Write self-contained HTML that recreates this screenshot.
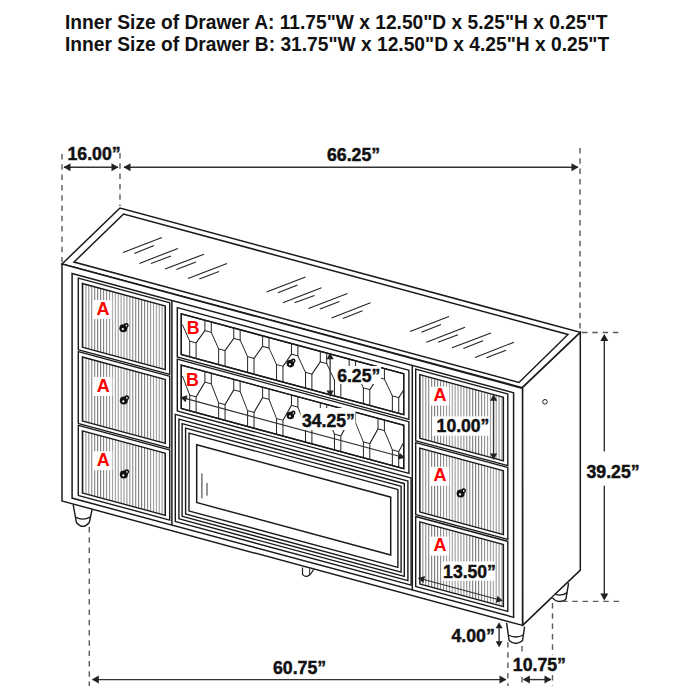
<!DOCTYPE html>
<html><head><meta charset="utf-8"><style>
html,body{margin:0;padding:0;background:#fff;width:700px;height:700px;overflow:hidden}
svg{display:block}
.h{font-family:"Liberation Sans",sans-serif;font-weight:bold;font-size:19.2px;fill:#111}
.d{font-family:"Liberation Sans",sans-serif;font-weight:bold;fill:#111;stroke:#111;stroke-width:0.45px}
.r{font-family:"Liberation Sans",sans-serif;font-weight:bold;fill:#f00;font-size:18px}
</style></head><body>
<svg width="700" height="700" viewBox="0 0 700 700">
<defs>
<pattern id="flute" patternUnits="userSpaceOnUse" x="0.5" y="0" width="2.93" height="40">
<rect x="0" y="0" width="2.93" height="40" fill="#fff"/>
<rect x="0" y="0" width="0.95" height="40" fill="#7c7c7c"/>
</pattern>
</defs>
<rect width="700" height="700" fill="#fff"/>
<text x="65" y="28.6" class="h" transform="translate(0,28.6) scale(1,1.07) translate(0,-28.6)">Inner Size of Drawer A: 11.75"W x 12.50"D x 5.25"H x 0.25"T</text><text x="65" y="51.4" class="h" transform="translate(0,51.4) scale(1,1.07) translate(0,-51.4)">Inner Size of Drawer B: 31.75"W x 12.50"D x 4.25"H x 0.25"T</text>
<path d="M120,208 L62,264 L522.4,387.6 L580.3,332.4 Z" fill="#fff" stroke="#1a1a1a" stroke-width="1.5" stroke-linejoin="miter"/><path d="M123.6,214 L74,262 L519,382.5 L568,334.5 Z" fill="none" stroke="#1a1a1a" stroke-width="1.5"/><line x1="123.00" y1="252.60" x2="162.00" y2="237.60" stroke="#222" stroke-width="1.1" /><line x1="134.40" y1="253.40" x2="154.00" y2="245.60" stroke="#222" stroke-width="1.1" /><line x1="139.40" y1="263.40" x2="178.00" y2="248.40" stroke="#222" stroke-width="1.1" /><line x1="151.00" y1="263.40" x2="171.00" y2="256.00" stroke="#222" stroke-width="1.1" /><line x1="165.00" y1="269.00" x2="204.00" y2="254.20" stroke="#222" stroke-width="1.1" /><line x1="176.40" y1="269.60" x2="196.00" y2="262.00" stroke="#222" stroke-width="1.1" /><line x1="188.00" y1="278.60" x2="227.00" y2="263.40" stroke="#222" stroke-width="1.1" /><line x1="199.40" y1="279.00" x2="219.00" y2="271.40" stroke="#222" stroke-width="1.1" /><line x1="266.50" y1="292.00" x2="305.50" y2="277.00" stroke="#222" stroke-width="1.1" /><line x1="277.90" y1="292.80" x2="297.50" y2="285.00" stroke="#222" stroke-width="1.1" /><line x1="282.90" y1="302.80" x2="321.50" y2="287.80" stroke="#222" stroke-width="1.1" /><line x1="294.50" y1="302.80" x2="314.50" y2="295.40" stroke="#222" stroke-width="1.1" /><line x1="308.50" y1="308.40" x2="347.50" y2="293.60" stroke="#222" stroke-width="1.1" /><line x1="319.90" y1="309.00" x2="339.50" y2="301.40" stroke="#222" stroke-width="1.1" /><line x1="331.50" y1="318.00" x2="370.50" y2="302.80" stroke="#222" stroke-width="1.1" /><line x1="342.90" y1="318.40" x2="362.50" y2="310.80" stroke="#222" stroke-width="1.1" /><line x1="410.00" y1="331.40" x2="449.00" y2="316.40" stroke="#222" stroke-width="1.1" /><line x1="421.40" y1="332.20" x2="441.00" y2="324.40" stroke="#222" stroke-width="1.1" /><line x1="426.40" y1="342.20" x2="465.00" y2="327.20" stroke="#222" stroke-width="1.1" /><line x1="438.00" y1="342.20" x2="458.00" y2="334.80" stroke="#222" stroke-width="1.1" /><line x1="452.00" y1="347.80" x2="491.00" y2="333.00" stroke="#222" stroke-width="1.1" /><line x1="463.40" y1="348.40" x2="483.00" y2="340.80" stroke="#222" stroke-width="1.1" /><line x1="475.00" y1="357.40" x2="514.00" y2="342.20" stroke="#222" stroke-width="1.1" /><line x1="486.40" y1="357.80" x2="506.00" y2="350.20" stroke="#222" stroke-width="1.1" /><path d="M522.4,387.6 L580.3,332.4 L580.3,570.1 L522.6,625.4 Z" fill="#fff" stroke="#1a1a1a" stroke-width="1.5"/><circle cx="545" cy="401.8" r="2.3" fill="none" stroke="#222" stroke-width="1"/><path d="M73.2,504.6 L76.4,522.5 Q82.85,530.3 89.3,522.5 L92.1,509.6" fill="#fff" stroke="#1a1a1a" stroke-width="1.4"/><path d="M75.38,517.1 Q82.85,521.1 90.20,517.1" fill="none" stroke="#1a1a1a" stroke-width="1.3"/><path d="M506.6,622.8 L509.1,640.5 Q515.85,646.3 522.6,640.5 L524.6,626.7" fill="#fff" stroke="#1a1a1a" stroke-width="1.4"/><path d="M508.30,635 Q515.85,639 523.24,635" fill="none" stroke="#1a1a1a" stroke-width="1.3"/><path d="M552.4,597.6 Q555.5,601.6 559.5,601.4 Q564.8,601.2 566,598.6 L568.6,583.2" fill="#fff" stroke="#1a1a1a" stroke-width="1.4"/><path d="M555.2,594.2 Q561,596.8 567.2,592.6" fill="none" stroke="#1a1a1a" stroke-width="1.3"/><path d="M302.5,567.4 L302.5,574.3 Q307.4,580 313.4,570 L313.4,569.6" fill="#fff" stroke="#1a1a1a" stroke-width="1.2"/><line x1="309.60" y1="568.50" x2="309.60" y2="576.00" stroke="#333" stroke-width="1" />
<g transform="matrix(1,0.27,0,1,0,-16.740)"><rect x="62.00" y="264.00" width="460.50" height="237.00" fill="#fff" stroke="#1a1a1a" stroke-width="1.5"/><rect x="72.10" y="270.80" width="441.50" height="224.60" fill="none" stroke="#1a1a1a" stroke-width="1.5"/><line x1="171.90" y1="270.80" x2="171.90" y2="495.40" stroke="#1a1a1a" stroke-width="1.5"/><line x1="412.30" y1="270.80" x2="412.30" y2="495.40" stroke="#1a1a1a" stroke-width="1.5"/><rect x="78.30" y="273.70" width="91.40" height="71.60" fill="#fff" stroke="#1a1a1a" stroke-width="1.4"/><rect x="82.40" y="278.00" width="82.90" height="63.70" fill="url(#flute)" stroke="#1a1a1a" stroke-width="1.4"/><rect x="78.30" y="347.20" width="91.40" height="71.80" fill="#fff" stroke="#1a1a1a" stroke-width="1.4"/><rect x="82.40" y="351.50" width="82.90" height="63.90" fill="url(#flute)" stroke="#1a1a1a" stroke-width="1.4"/><rect x="78.30" y="421.00" width="91.40" height="70.00" fill="#fff" stroke="#1a1a1a" stroke-width="1.4"/><rect x="82.40" y="425.30" width="82.90" height="62.10" fill="url(#flute)" stroke="#1a1a1a" stroke-width="1.4"/><rect x="415.70" y="273.70" width="92.10" height="71.60" fill="#fff" stroke="#1a1a1a" stroke-width="1.4"/><rect x="419.80" y="278.00" width="83.60" height="63.70" fill="url(#flute)" stroke="#1a1a1a" stroke-width="1.4"/><rect x="415.70" y="347.20" width="92.10" height="71.80" fill="#fff" stroke="#1a1a1a" stroke-width="1.4"/><rect x="419.80" y="351.50" width="83.60" height="63.90" fill="url(#flute)" stroke="#1a1a1a" stroke-width="1.4"/><rect x="415.70" y="421.00" width="92.10" height="70.00" fill="#fff" stroke="#1a1a1a" stroke-width="1.4"/><rect x="419.80" y="425.30" width="83.60" height="62.10" fill="url(#flute)" stroke="#1a1a1a" stroke-width="1.4"/><rect x="177.30" y="276.60" width="231.60" height="49.20" fill="#fff" stroke="#1a1a1a" stroke-width="1.4"/><rect x="181.30" y="281.60" width="222.40" height="40.80" fill="none" stroke="#1a1a1a" stroke-width="1.4"/><clipPath id="cl276"><rect x="181.3" y="281.6" width="222.40" height="40.80"/></clipPath><g stroke="#222" stroke-width="1" fill="none" clip-path="url(#cl276)"><rect x="189.70" y="306.60" width="6.4" height="17.80"/><rect x="218.65" y="306.60" width="6.4" height="17.80"/><rect x="247.60" y="306.60" width="6.4" height="17.80"/><rect x="276.55" y="306.60" width="6.4" height="17.80"/><rect x="305.50" y="306.60" width="6.4" height="17.80"/><rect x="334.45" y="306.60" width="6.4" height="17.80"/><rect x="363.40" y="306.60" width="6.4" height="17.80"/><rect x="392.35" y="306.60" width="6.4" height="17.80"/><rect x="204.90" y="279.60" width="6.4" height="12.50"/><rect x="233.75" y="279.60" width="6.4" height="12.50"/><rect x="262.60" y="279.60" width="6.4" height="12.50"/><rect x="291.45" y="279.60" width="6.4" height="12.50"/><rect x="320.30" y="279.60" width="6.4" height="12.50"/><rect x="349.15" y="279.60" width="6.4" height="12.50"/><rect x="378.00" y="279.60" width="6.4" height="12.50"/><path d="M167.15,306.60 L176.05,292.10 M182.45,292.10 L189.70,306.60"/><path d="M196.10,306.60 L204.90,292.10 M211.30,292.10 L218.65,306.60"/><path d="M225.05,306.60 L233.75,292.10 M240.15,292.10 L247.60,306.60"/><path d="M254.00,306.60 L262.60,292.10 M269.00,292.10 L276.55,306.60"/><path d="M282.95,306.60 L291.45,292.10 M297.85,292.10 L305.50,306.60"/><path d="M311.90,306.60 L320.30,292.10 M326.70,292.10 L334.45,306.60"/><path d="M340.85,306.60 L349.15,292.10 M355.55,292.10 L363.40,306.60"/><path d="M369.80,306.60 L378.00,292.10 M384.40,292.10 L392.35,306.60"/><path d="M398.75,306.60 L406.85,292.10 M413.25,292.10 L421.30,306.60"/></g><rect x="181.30" y="281.60" width="222.40" height="40.80" fill="none" stroke="#1a1a1a" stroke-width="1.4"/><rect x="177.30" y="328.00" width="231.60" height="51.80" fill="#fff" stroke="#1a1a1a" stroke-width="1.4"/><rect x="181.30" y="333.00" width="222.40" height="43.40" fill="none" stroke="#1a1a1a" stroke-width="1.4"/><clipPath id="cl328"><rect x="181.3" y="333.0" width="222.40" height="43.40"/></clipPath><g stroke="#222" stroke-width="1" fill="none" clip-path="url(#cl328)"><rect x="189.70" y="360.60" width="6.4" height="17.80"/><rect x="218.65" y="360.60" width="6.4" height="17.80"/><rect x="247.60" y="360.60" width="6.4" height="17.80"/><rect x="276.55" y="360.60" width="6.4" height="17.80"/><rect x="305.50" y="360.60" width="6.4" height="17.80"/><rect x="334.45" y="360.60" width="6.4" height="17.80"/><rect x="363.40" y="360.60" width="6.4" height="17.80"/><rect x="392.35" y="360.60" width="6.4" height="17.80"/><rect x="204.90" y="331.00" width="6.4" height="12.50"/><rect x="233.75" y="331.00" width="6.4" height="12.50"/><rect x="262.60" y="331.00" width="6.4" height="12.50"/><rect x="291.45" y="331.00" width="6.4" height="12.50"/><rect x="320.30" y="331.00" width="6.4" height="12.50"/><rect x="349.15" y="331.00" width="6.4" height="12.50"/><rect x="378.00" y="331.00" width="6.4" height="12.50"/><path d="M167.15,360.60 L176.05,343.50 M182.45,343.50 L189.70,360.60"/><path d="M196.10,360.60 L204.90,343.50 M211.30,343.50 L218.65,360.60"/><path d="M225.05,360.60 L233.75,343.50 M240.15,343.50 L247.60,360.60"/><path d="M254.00,360.60 L262.60,343.50 M269.00,343.50 L276.55,360.60"/><path d="M282.95,360.60 L291.45,343.50 M297.85,343.50 L305.50,360.60"/><path d="M311.90,360.60 L320.30,343.50 M326.70,343.50 L334.45,360.60"/><path d="M340.85,360.60 L349.15,343.50 M355.55,343.50 L363.40,360.60"/><path d="M369.80,360.60 L378.00,343.50 M384.40,343.50 L392.35,360.60"/><path d="M398.75,360.60 L406.85,343.50 M413.25,343.50 L421.30,360.60"/></g><rect x="181.30" y="333.00" width="222.40" height="43.40" fill="none" stroke="#1a1a1a" stroke-width="1.4"/><rect x="175.30" y="383.80" width="235.80" height="107.10" fill="none" stroke="#1a1a1a" stroke-width="1.4"/><rect x="178.90" y="387.60" width="229.00" height="99.70" fill="none" stroke="#1a1a1a" stroke-width="1.4"/><rect x="182.10" y="391.20" width="222.20" height="92.70" fill="none" stroke="#1a1a1a" stroke-width="1.4"/><rect x="185.60" y="394.80" width="215.50" height="85.80" fill="none" stroke="#1a1a1a" stroke-width="1.4"/><rect x="189.00" y="398.80" width="208.90" height="77.80" fill="none" stroke="#1a1a1a" stroke-width="1.4"/><rect x="196.70" y="408.40" width="194.00" height="57.80" fill="none" stroke="#1a1a1a" stroke-width="1.5"/><line x1="201.90" y1="435.63" x2="201.90" y2="460.53" stroke="#333" stroke-width="1"/><line x1="207.00" y1="443.75" x2="207.00" y2="456.55" stroke="#333" stroke-width="1"/></g>
<circle cx="126.30" cy="325.40" r="2.40" fill="#111"/><circle cx="123.30" cy="328.30" r="4.00" fill="#111"/><circle cx="126.40" cy="325.60" r="0.80" fill="#fff"/><circle cx="122.80" cy="329.10" r="1.10" fill="#fff"/><circle cx="126.80" cy="397.70" r="2.40" fill="#111"/><circle cx="123.80" cy="400.60" r="4.00" fill="#111"/><circle cx="126.90" cy="397.90" r="0.80" fill="#fff"/><circle cx="123.30" cy="401.40" r="1.10" fill="#fff"/><circle cx="126.80" cy="471.70" r="2.40" fill="#111"/><circle cx="123.80" cy="474.60" r="4.00" fill="#111"/><circle cx="126.90" cy="471.90" r="0.80" fill="#fff"/><circle cx="123.30" cy="475.40" r="1.10" fill="#fff"/><circle cx="463.60" cy="490.70" r="2.40" fill="#111"/><circle cx="460.60" cy="493.60" r="4.00" fill="#111"/><circle cx="463.70" cy="490.90" r="0.80" fill="#fff"/><circle cx="460.10" cy="494.40" r="1.10" fill="#fff"/><circle cx="293.25" cy="360.85" r="2.28" fill="#111"/><circle cx="290.40" cy="363.60" r="3.80" fill="#111"/><circle cx="293.34" cy="361.04" r="0.76" fill="#fff"/><circle cx="289.92" cy="364.36" r="1.04" fill="#fff"/><circle cx="293.25" cy="412.75" r="2.28" fill="#111"/><circle cx="290.40" cy="415.50" r="3.80" fill="#111"/><circle cx="293.34" cy="412.94" r="0.76" fill="#fff"/><circle cx="289.92" cy="416.26" r="1.04" fill="#fff"/>
<rect x="92.80000000000001" y="300.1" width="19.39999999999999" height="19.0" fill="#fff"/><text x="96.60000000000001" y="314.70000000000005" class="r">A</text><rect x="93.0" y="377.0" width="19.39999999999999" height="19.0" fill="#fff"/><text x="96.8" y="391.6" class="r">A</text><rect x="93.0" y="451.2" width="19.39999999999999" height="19.0" fill="#fff"/><text x="96.8" y="465.8" class="r">A</text><rect x="429.79999999999995" y="386.6" width="19.400000000000034" height="19.0" fill="#fff"/><text x="433.59999999999997" y="401.20000000000005" class="r">A</text><rect x="429.79999999999995" y="466.8" width="19.400000000000034" height="19.0" fill="#fff"/><text x="433.59999999999997" y="481.40000000000003" class="r">A</text><rect x="429.79999999999995" y="536.6" width="19.400000000000034" height="19.0" fill="#fff"/><text x="433.59999999999997" y="551.2" class="r">A</text><text x="186.8" y="333.8" class="r" style="font-size:17.8px;font-weight:bold;stroke-width:0">B</text><text x="186.0" y="385.59999999999997" class="r" style="font-size:17.8px;font-weight:bold;stroke-width:0">B</text>
<rect x="335" y="366" width="46" height="18" fill="#fff"/><text x="337.2" y="381.7" class="d" font-size="17.6">6.25”</text><rect x="300.5" y="408" width="55.0" height="22" fill="#fff"/><text x="302" y="426.5" class="d" font-size="17.6">34.25”</text><rect x="432" y="416.4" width="57.30000000000001" height="19.30000000000001" fill="#fff"/><text x="436.6" y="432.3" class="d" font-size="17.6">10.00”</text><rect x="441.4" y="561.4" width="53.60000000000002" height="19.300000000000068" fill="#fff"/><text x="443.1" y="578.0" class="d" font-size="17.6">13.50”</text><line x1="330.10" y1="356.00" x2="330.10" y2="394.00" stroke="#333" stroke-width="1.3" /><path d="M330.10,352.80 L333.70,359.30 L326.50,359.30 Z" fill="#222"/><path d="M330.10,397.00 L326.50,390.50 L333.70,390.50 Z" fill="#222"/><line x1="493.60" y1="397.00" x2="493.60" y2="457.00" stroke="#333" stroke-width="1.3" /><path d="M493.60,394.30 L497.20,400.80 L490.00,400.80 Z" fill="#222"/><path d="M493.60,460.00 L490.00,453.50 L497.20,453.50 Z" fill="#222"/><line x1="183.30" y1="397.95" x2="402.00" y2="457.00" stroke="#333" stroke-width="1.2" /><path d="M180.30,397.14 L187.51,395.36 L185.64,402.31 Z" fill="#222"/><path d="M405.00,457.81 L397.79,459.59 L399.66,452.64 Z" fill="#222"/><line x1="420.90" y1="578.71" x2="499.90" y2="600.04" stroke="#333" stroke-width="1.2" /><path d="M417.90,577.90 L425.11,576.12 L423.24,583.07 Z" fill="#222"/><path d="M502.90,600.85 L495.69,602.63 L497.56,595.68 Z" fill="#222"/>
<line x1="62.00" y1="154.00" x2="62.00" y2="262.00" stroke="#5a5a5a" stroke-width="1.4" stroke-dasharray="5.5 4.8"/><line x1="120.00" y1="153.00" x2="120.00" y2="206.00" stroke="#5a5a5a" stroke-width="1.4" stroke-dasharray="5.5 4.8"/><line x1="580.00" y1="148.00" x2="580.00" y2="331.00" stroke="#5a5a5a" stroke-width="1.4" stroke-dasharray="5.5 4.8"/><line x1="64.00" y1="167.30" x2="118.00" y2="167.30" stroke="#333" stroke-width="1.4" /><path d="M63.50,167.30 L70.50,163.30 L70.50,171.30 Z" fill="#222"/><path d="M118.50,167.30 L111.50,171.30 L111.50,163.30 Z" fill="#222"/><line x1="124.00" y1="167.30" x2="578.00" y2="167.30" stroke="#333" stroke-width="1.4" /><path d="M123.50,167.30 L130.50,163.30 L130.50,171.30 Z" fill="#222"/><path d="M578.50,167.30 L571.50,171.30 L571.50,163.30 Z" fill="#222"/><line x1="582.00" y1="332.50" x2="620.00" y2="332.50" stroke="#5a5a5a" stroke-width="1.4" stroke-dasharray="5.5 4.8"/><line x1="562.00" y1="601.40" x2="622.00" y2="601.40" stroke="#5a5a5a" stroke-width="1.4" stroke-dasharray="5.5 4.8"/><line x1="604.30" y1="336.00" x2="604.30" y2="451.40" stroke="#333" stroke-width="1.4" /><line x1="604.30" y1="485.70" x2="604.30" y2="598.00" stroke="#333" stroke-width="1.4" /><path d="M604.30,334.00 L608.30,341.00 L600.30,341.00 Z" fill="#222"/><path d="M604.30,600.50 L600.30,593.50 L608.30,593.50 Z" fill="#222"/><line x1="89.30" y1="527.00" x2="89.30" y2="686.00" stroke="#5a5a5a" stroke-width="1.4" stroke-dasharray="5.5 4.8"/><line x1="507.90" y1="642.00" x2="507.90" y2="686.00" stroke="#5a5a5a" stroke-width="1.4" stroke-dasharray="5.5 4.8"/><line x1="522.00" y1="646.00" x2="522.00" y2="686.00" stroke="#5a5a5a" stroke-width="1.4" stroke-dasharray="5.5 4.8"/><line x1="552.50" y1="603.00" x2="552.50" y2="686.00" stroke="#5a5a5a" stroke-width="1.4" stroke-dasharray="5.5 4.8"/><line x1="93.00" y1="679.60" x2="506.00" y2="679.60" stroke="#333" stroke-width="1.4" /><path d="M91.80,679.60 L98.80,675.60 L98.80,683.60 Z" fill="#222"/><path d="M506.50,679.60 L499.50,683.60 L499.50,675.60 Z" fill="#222"/><line x1="524.00" y1="679.60" x2="551.00" y2="679.60" stroke="#333" stroke-width="1.4" /><path d="M522.80,679.60 L529.80,675.60 L529.80,683.60 Z" fill="#222"/><path d="M551.50,679.60 L544.50,683.60 L544.50,675.60 Z" fill="#222"/><line x1="499.10" y1="624.00" x2="499.10" y2="646.00" stroke="#333" stroke-width="1.4" /><path d="M499.10,622.20 L502.60,628.20 L495.60,628.20 Z" fill="#222"/><path d="M499.10,647.30 L495.60,641.30 L502.60,641.30 Z" fill="#222"/>
<text x="67.5" y="160.0" class="d" font-size="17.7">16.00”</text><text x="327" y="160.8" class="d" font-size="17.7">66.25”</text><text x="586.5" y="477.6" class="d" font-size="17.7">39.25”</text><text x="273" y="673.9" class="d" font-size="17.7">60.75”</text><text x="451.5" y="642.1" class="d" font-size="17.7">4.00”</text><rect x="511" y="655" width="56" height="19" fill="#fff"/><text x="512.8" y="671.3" class="d" font-size="17.7">10.75”</text>
</svg></body></html>
